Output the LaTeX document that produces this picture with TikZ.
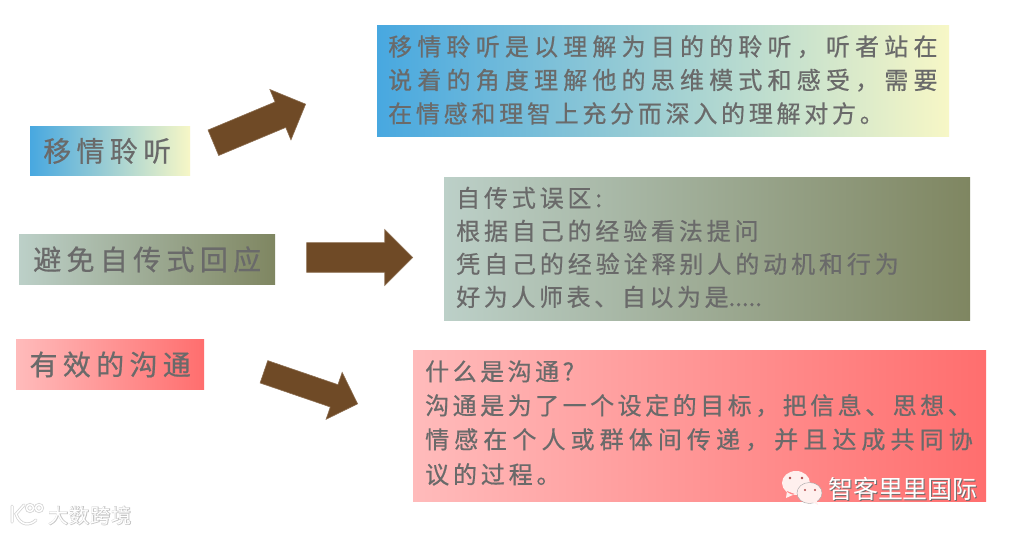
\documentclass[tikz,border=0pt]{standalone}
\usepackage{fontspec}
\usetikzlibrary{shapes.arrows}
\setmainfont{Noto Sans CJK SC}
\newcommand{\track}[1]{\addfontfeature{LetterSpace=#1}}
\newcommand{\heavy}{\addfontfeature{FakeBold=.6}}
\definecolor{inkgray}{HTML}{6A6A6A}
\definecolor{skyblue}{HTML}{48A8E0}
\definecolor{paleyellow}{HTML}{F7F7C6}
\definecolor{sagegray}{HTML}{BCD0C8}
\definecolor{sagemid}{HTML}{B0BFAE}
\definecolor{olivegray}{HTML}{7F8661}
\definecolor{palered}{HTML}{FFBBBB}
\definecolor{redmid}{HTML}{FF9A9A}
\definecolor{coralred}{HTML}{FF6E6E}
\definecolor{barkbrown}{HTML}{6F4A26}
\definecolor{bubblepink}{HTML}{FFF0EE}

\begin{document}
\begin{tikzpicture}[
  x=1pt,y=-1pt,
  card/.style={anchor=north west,inner sep=0pt,text=inkgray,align=left},
  tag/.style={card,align=center,font=\fontsize{28}{30}\selectfont\heavy\track{19}},
  bluegrad/.style={left color=skyblue,right color=paleyellow},
  olivegrad/.style={left color=sagegray,middle color=sagemid,right color=olivegray},
  redgrad/.style={left color=palered,middle color=redmid,right color=coralred},
  blockarrow/.style={single arrow,anchor=tip,draw=barkbrown!80!white,line width=.6pt,fill=barkbrown,inner sep=0pt,
    text width=0pt,text depth=0pt},
  mark/.style={text=white,inner sep=0pt,font=\fontsize{#1}{#1}\selectfont}
]
  \useasboundingbox (0,0) rectangle (1011,534);
  \fill[white] (0,0) rectangle (1011,534);

  \node[tag,bluegrad,minimum width=160pt,minimum height=49.5pt] (listen) at (30,126) {\raisebox{1pt}{移情聆听}\hspace{6pt}};
  \node[tag,olivegrad,minimum width=256pt,minimum height=50.5pt] (avoid) at (19,234) {\raisebox{1pt}{避免自传式回应}};
  \node[tag,redgrad,minimum width=188pt,minimum height=50.5pt] (talk) at (16,339) {\raisebox{1pt}{有效的沟通}};

  \node[card,bluegrad,minimum width=572pt,minimum height=111.5pt,text width=550pt,
    font=\fontsize{24}{33.5}\selectfont\heavy] (listeninfo) at (377,25) {%
    {\track{21.6}移情聆听是以理解为目的的聆听，听者站在}\\
    {\track{21.6}说着的角度理解他的思维模式和感受，需要}\\
    {\track{15.6}在情感和理智上充分而深入的理解对方。}\vspace{2pt}};
  \node[card,olivegrad,minimum width=526pt,minimum height=143.5pt,text width=502pt,
    font=\fontsize{24}{33}\selectfont\heavy] (avoidinfo) at (444,177) {%
    {\track{16}自传式误区:}\\
    {\track{16}根据自己的经验看法提问}\\
    {\track{16.3}凭自己的经验诠释别人的动机和行为}\\
    {\track{15}好为人师表、自以为是}{\track{0}.....}\vspace{3pt}};
  \node[card,redgrad,minimum width=573pt,minimum height=151.5pt,text width=549pt,
    font=\fontsize{24}{34}\selectfont\heavy] (talkinfo) at (413,350) {%
    {\track{14.6}什么是沟通?}\\
    {\track{14.6}沟通是为了一个设定的目标，把信息、思想、}\\
    {\track{21.2}情感在个人或群体间传递，并且达成共同协}\\[1pt]
    {\track{16}议的过程。}\vspace{6pt}};

  \node[blockarrow,rotate=22.7,minimum height=100pt,single arrow head extend=13.5pt,text height=27pt] (arrowa) at (306,104) {};
  \node[blockarrow,minimum height=106pt,single arrow head extend=13pt,text height=29pt] (arrowb) at (413,257.5) {};
  \node[blockarrow,rotate=-18.9,minimum height=99pt,single arrow head extend=13pt,text height=23pt] (arrowc) at (358,404) {};

  \fill[bubblepink] (796,483) ellipse (14 and 12) (787,491) -- (786,498) -- (795,494) -- cycle;
  \draw[fill=bubblepink,draw=gray!70,line width=.4pt] (809.5,493) ellipse (12.5 and 10.5);
  \fill[bubblepink] (812,502) -- (818,505) -- (816,499) -- cycle;
  \fill[red!40!gray] (790,478) circle (1.4) (802,478) circle (1.4) (805,490) circle (1.2) (815,490) circle (1.2);
  \node[mark=25,text=gray!85!black] (brandshadow) at (903.8,490) {\track{-1}智客里里国际};
  \node[mark=25] (brand) at (903,489) {\track{-1}智客里里国际};

  \draw[gray!35,line width=3pt,line cap=round] (12,506) -- (12,522) (24,505) -- (16,514) .. controls (20,526) and (30,526) .. (36,520)
    (30,508) circle (3.5) (39,508) circle (3.5);
  \draw[white,line width=1.5pt,line cap=round] (12,506) -- (12,522) (24,505) -- (16,514) .. controls (20,526) and (30,526) .. (36,520)
    (30,508) circle (3.5) (39,508) circle (3.5);
  \node[mark=20,text=gray!45] (sitehalo) at (90,515.5) {\addfontfeature{FakeBold=5}\track{5}大数跨境};
  \node[mark=20] (site) at (90,515.5) {\track{5}大数跨境};
\end{tikzpicture}
\end{document}
